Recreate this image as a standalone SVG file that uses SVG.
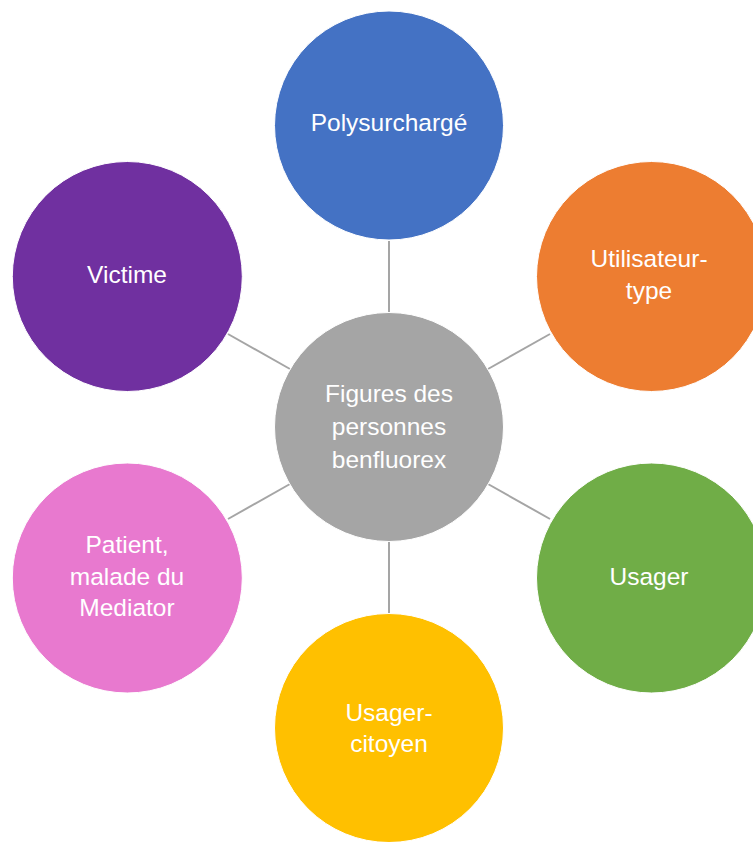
<svg xmlns="http://www.w3.org/2000/svg" width="753" height="842" viewBox="0 0 753 842">
<style>
.c{stroke:#fff;stroke-width:1}
.t{font-family:"Liberation Sans",Arial,sans-serif;font-size:24.5px;fill:#fff;text-anchor:middle}
.l{stroke:#a5a5a5;stroke-width:2;fill:none}
</style>
<rect width="753" height="842" fill="#fff"/>
<g id="connectors">
<line class="l" x1="389" y1="241" x2="389" y2="312"/>
<line class="l" x1="550" y1="334" x2="488" y2="369"/>
<line class="l" x1="550" y1="519" x2="488" y2="484"/>
<line class="l" x1="389" y1="541" x2="389" y2="613"/>
<line class="l" x1="228" y1="519" x2="290" y2="484"/>
<line class="l" x1="228" y1="334" x2="290" y2="369"/>
</g>
<g id="center">
<circle class="c" cx="389" cy="427" r="114.5" fill="#a5a5a5"/>
<text class="t" x="389" y="402">Figures des</text>
<text class="t" x="389" y="435">personnes</text>
<text class="t" x="389" y="468">benfluorex</text>
</g>
<g id="polysurcharge">
<circle class="c" cx="389" cy="125.5" r="114.5" fill="#4472c4"/>
<text class="t" x="389" y="131">Polysurchargé</text>
</g>
<g id="utilisateur-type">
<circle class="c" cx="651.5" cy="276.5" r="115" fill="#ed7d31"/>
<text class="t" x="649" y="267">Utilisateur-</text>
<text class="t" x="649" y="299">type</text>
</g>
<g id="usager">
<circle class="c" cx="651.5" cy="578" r="115" fill="#70ad47"/>
<text class="t" x="649" y="585">Usager</text>
</g>
<g id="usager-citoyen">
<circle class="c" cx="389" cy="728" r="114.5" fill="#ffc000"/>
<text class="t" x="389" y="721">Usager-</text>
<text class="t" x="389" y="752">citoyen</text>
</g>
<g id="patient">
<circle class="c" cx="127.3" cy="578" r="115" fill="#e879cf"/>
<text class="t" x="127" y="553">Patient,</text>
<text class="t" x="127" y="585">malade du</text>
<text class="t" x="127" y="616">Mediator</text>
</g>
<g id="victime">
<circle class="c" cx="127.3" cy="276.5" r="115" fill="#7030a0"/>
<text class="t" x="127" y="283">Victime</text>
</g>
</svg>
